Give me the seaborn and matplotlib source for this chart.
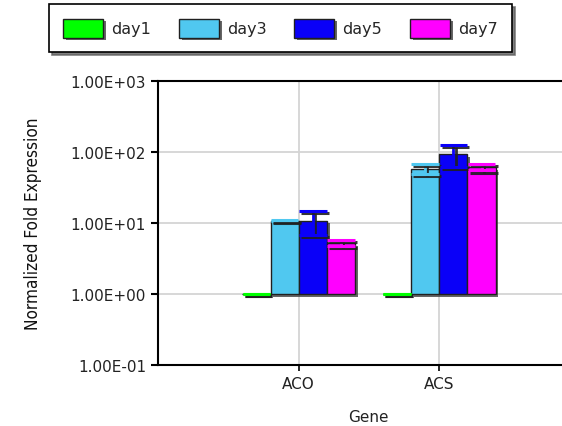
import numpy as np
import pandas as pd
import matplotlib
matplotlib.use("Agg")
import matplotlib.pyplot as plt
import matplotlib.patheffects as pe
from matplotlib.ticker import FuncFormatter, FixedLocator, NullLocator
import seaborn as sns

genes = ["ACO", "ACS"]
days = ["day1", "day3", "day5", "day7"]
colors = ["#00FF00", "#50C8F0", "#0A00F8", "#FF00FF"]

# mean fold expression per gene, one list per day
day1_vals = [1.0, 1.0]
day3_vals = [10.8, 58.0]
day5_vals = [10.8, 93.0]
day7_vals = [5.2, 61.0]

# standard deviation per gene, one list per day
day1_err = [0.0, 0.0]
day3_err = [0.2, 9.0]
day5_err = [4.0, 31.0]
day7_err = [0.5, 6.0]

yticks = [0.1, 1, 10, 100, 1000]

values = {"day1": day1_vals, "day3": day3_vals, "day5": day5_vals, "day7": day7_vals}
errors = {"day1": day1_err, "day3": day3_err, "day5": day5_err, "day7": day7_err}

rows = []
for d in days:
    for g, v in zip(genes, values[d]):
        rows.append({"Gene": g, "Day": d, "Value": v})
df = pd.DataFrame(rows)

sns.set_style("white")
plt.rcParams["font.family"] = ["DejaVu Sans"]

fig = plt.figure(figsize=(5.62, 4.27), dpi=100)
ax = fig.add_axes([0.2811, 0.1429, 0.751, 0.665])

shadow = [pe.SimplePatchShadow(offset=(2, -2), shadow_rgbFace="#404040", alpha=0.8), pe.Normal()]
line_shadow = [pe.SimpleLineShadow(offset=(1.5, -1.5), shadow_color="#202020", alpha=0.9), pe.Normal()]

sns.barplot(data=df, x="Gene", y="Value", hue="Day", order=genes, hue_order=days,
            palette=colors, saturation=1, errorbar=None, edgecolor="#202020",
            linewidth=1.0, width=0.8, ax=ax, legend=True, zorder=3)

ax.set_yscale("log")
ax.set_xlim(-1, 2)
ax.set_ylim(0.1, 1000)

# bars rise from the 1.00E+00 baseline
for d, cont in zip(days, ax.containers):
    for gi, patch in enumerate(cont.patches):
        h = patch.get_height()
        patch.set_y(1.0)
        patch.set_height(h - 1.0)
        patch.set_path_effects(shadow)
        x = patch.get_x() + patch.get_width() / 2
        eb = ax.errorbar(x, values[d][gi], yerr=errors[d][gi], fmt="none",
                         ecolor=cont.patches[0].get_facecolor(), elinewidth=2,
                         capsize=10, capthick=2.2, zorder=4)
        for art in eb.lines[1] + eb.lines[2]:
            art.set_path_effects(line_shadow)

ax.yaxis.set_major_locator(FixedLocator(yticks))
ax.yaxis.set_minor_locator(NullLocator())
ax.yaxis.set_major_formatter(FuncFormatter(lambda v, p: f"{v:.2E}"))

ax.grid(True, color="#d4d4d4", linewidth=1.3, zorder=0)
ax.set_axisbelow(True)

for side in ["left", "bottom", "top"]:
    ax.spines[side].set_visible(True)
    ax.spines[side].set_color("black")
    ax.spines[side].set_linewidth(1.5)
ax.spines["right"].set_visible(False)

ax.tick_params(axis="y", direction="out", length=5, width=1.5, colors="black",
               labelsize=11, pad=3.5, left=True)
ax.tick_params(axis="x", direction="out", length=4, width=1.2, colors="black",
               labelsize=11, pad=4, bottom=True)
for t in ax.get_yticklabels() + ax.get_xticklabels():
    t.set_color("#222222")

ax.set_xlabel("Gene", fontsize=11, color="#222222")
ax.xaxis.set_label_coords(0.498, -0.155)
ax.set_ylabel("Normalized Fold Expression", fontsize=12.3, color="#111111",
              fontstretch="condensed")
ax.yaxis.set_label_coords(-0.275, 0.5)

handles, labels = ax.get_legend_handles_labels()
ax.get_legend().remove()
for h in handles:
    h.set_edgecolor("#202020")
    h.set_linewidth(1.0)
    h.set_path_effects(shadow)
leg = fig.legend(handles, labels, loc="center", bbox_to_anchor=(0.499, 0.932),
                 ncol=4, fontsize=11.5, frameon=True, fancybox=False,
                 shadow={"color": "#606060", "alpha": 0.8},
                 handlelength=2.5, handleheight=1.45, handletextpad=0.5,
                 columnspacing=1.75, borderpad=0.9, borderaxespad=0)
leg.get_frame().set_edgecolor("black")
leg.get_frame().set_linewidth(1.2)

fig.savefig("out.png", dpi=100)
